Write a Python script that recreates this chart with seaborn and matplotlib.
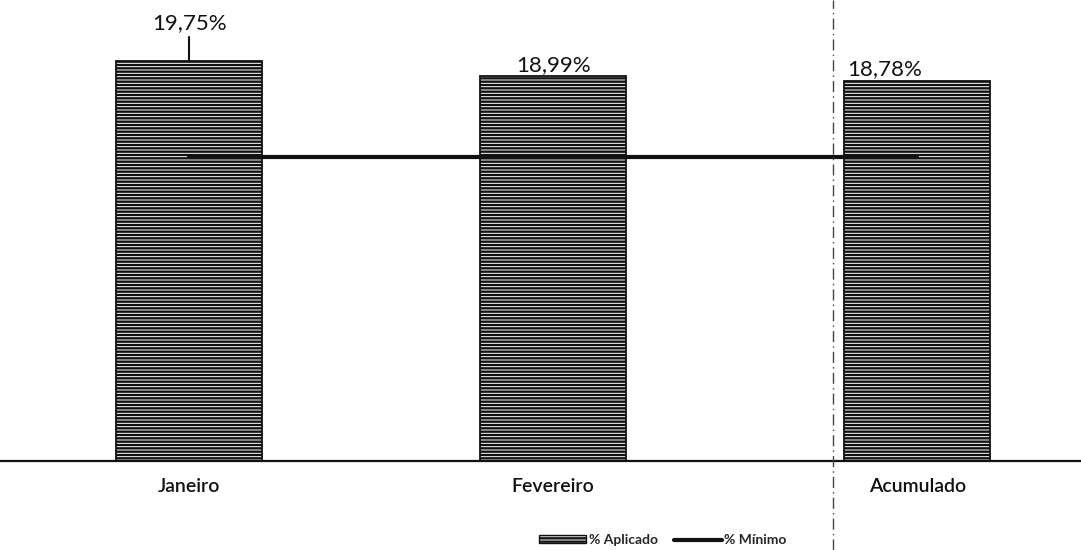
import matplotlib
matplotlib.use("Agg")
import matplotlib.pyplot as plt
from matplotlib.lines import Line2D
from matplotlib.patches import Patch
import seaborn as sns
import pandas as pd

# Percentual aplicado x percentual mínimo por período
categorias = ["Janeiro", "Fevereiro", "Acumulado"]
aplicado = [19.75, 18.99, 18.78]
minimo = [15.0, 15.0, 15.0]
rotulos = ["19,75%", "18,99%", "18,78%"]

sns.set_theme(style="white")
plt.rcParams["font.family"] = ["Lato", "DejaVu Sans"]
plt.rcParams["hatch.linewidth"] = 1.7
plt.rcParams["hatch.color"] = "#3a3a3a"

df = pd.DataFrame({"categoria": categorias, "aplicado": aplicado, "minimo": minimo})

fig = plt.figure(figsize=(10.81, 5.5), dpi=100)
ax = fig.add_axes([0.0, 0.162, 1.0, 0.838])

sns.barplot(data=df, x="categoria", y="aplicado", ax=ax, width=0.4,
            color="#ffffff", edgecolor="#111111", linewidth=1.3,
            hatch="-----", zorder=2)
sns.lineplot(x=[0, 1, 2], y=df["minimo"], ax=ax, color="#111111",
             linewidth=3, zorder=3)

ax.set_xlim(-0.52, 2.45)
ax.set_ylim(0, 22.76)
for s in ax.spines.values():
    s.set_visible(False)
ax.axhline(0, color="#111111", linewidth=1.6, zorder=4, clip_on=False)
ax.set_yticks([])
ax.set_xlabel("")
ax.set_ylabel("")
ax.tick_params(axis="x", length=0, pad=12)
ax.set_xticks(range(len(categorias)))
ax.set_xticklabels(categorias, fontsize=14, fontweight="semibold", color="#111111")

# Rótulos de valor sobre as barras
offsets = [(0, 1.4), (0, 0.05), (-0.09, 0.05)]
for i, (v, txt) in enumerate(zip(aplicado, rotulos)):
    dx, dy = offsets[i]
    ax.text(i + dx, v + dy, txt, ha="center", va="bottom", fontsize=16,
            color="#111111", zorder=5)
# linha de chamada do primeiro rótulo
ax.plot([0, 0], [aplicado[0] + 0.05, aplicado[0] + 1.2], color="#111111",
        linewidth=1.5, zorder=5)

# Separador vertical tracejado
fig.add_artist(Line2D([0.771, 0.771], [0.0, 1.0], transform=fig.transFigure,
                      color="#444444", linewidth=1.0, linestyle=(0, (8, 3, 1, 3))))

# Legenda
handles = [
    Patch(facecolor="#ffffff", edgecolor="#111111", hatch="-----", linewidth=1.0),
    Line2D([0], [0], color="#111111", linewidth=3),
]
leg = fig.legend(handles, ["% Aplicado", "% Mínimo"], loc="center",
                 bbox_to_anchor=(0.613, 0.018), ncol=2, frameon=False,
                 prop={"size": 10, "weight": "bold"}, handlelength=3.4,
                 handleheight=0.5, handletextpad=0.2, columnspacing=1.2)

fig.savefig("out.png", dpi=100)
